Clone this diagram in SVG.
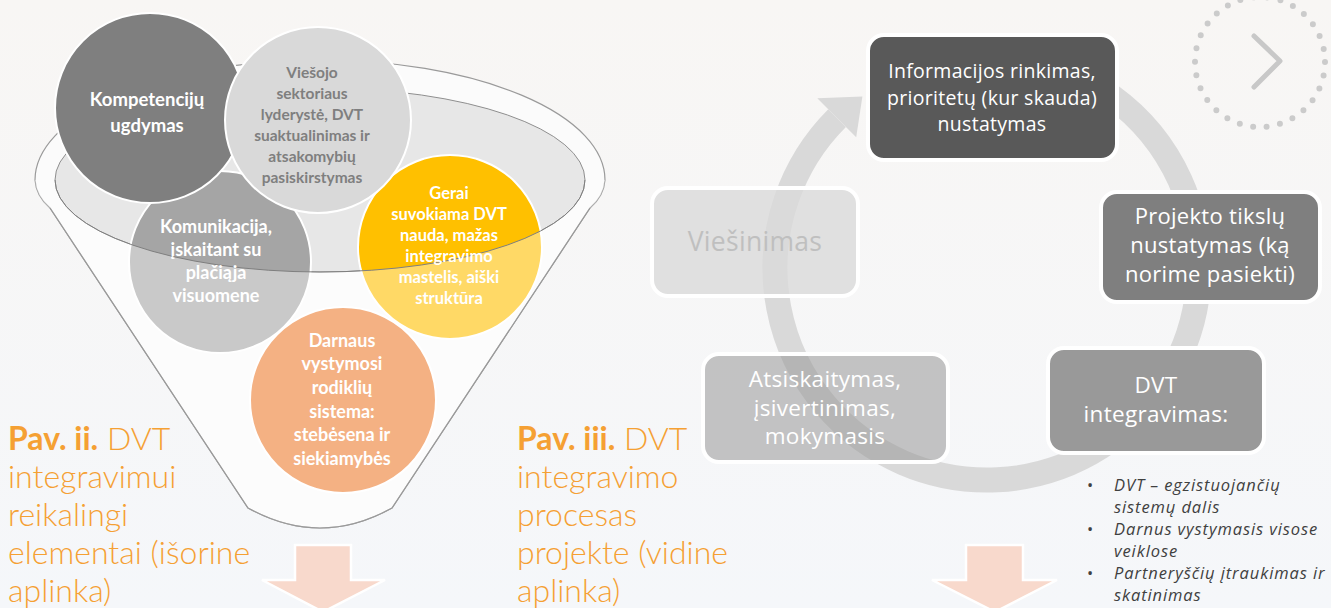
<svg xmlns="http://www.w3.org/2000/svg" width="1331" height="608" viewBox="0 0 1331 608">
<defs>
<linearGradient id="bg" x1="0" y1="0" x2="0" y2="1">
<stop offset="0" stop-color="#f8f6f4"/>
<stop offset="1" stop-color="#f5f7fa"/>
</linearGradient>
<style>
.ct{font-family:Lato,"Open Sans","Noto Sans",sans-serif;font-weight:bold;text-anchor:middle;fill:#ffffff}
.cir{stroke:#ffffff;stroke-width:2}
.box{stroke:#ffffff;stroke-width:4}
.bt{font-family:"Open Sans","Noto Sans",sans-serif;text-anchor:middle;fill:#ffffff;letter-spacing:0.3px}
.cap{font-family:Lato,"Open Sans",sans-serif;font-weight:300;font-size:32px;fill:#f5a033}
.capb{font-weight:bold}
.bul{font-family:"Open Sans","Noto Sans",sans-serif;font-style:italic;font-size:16.5px;letter-spacing:0.9px;fill:#404040}
.arr{fill:#f8d9cc;stroke:#ffffff;stroke-width:2.5}
</style>
</defs>
<rect width="1331" height="608" fill="url(#bg)"/>

<!-- funnel back -->
<g id="funnel-back">
<path d="M35,180 A285 120 0 0 1 605,180 Q604,196 590,208 L392,508 Q320,548 248,508 L50,208 Q36,196 35,180 Z" fill="#fbfbfb" stroke="#9a9a9a" stroke-width="1.2"/>
<ellipse cx="320" cy="180" rx="265" ry="92" fill="#e7e7e7" stroke="#8f8f8f" stroke-width="1"/>
</g>

<g id="n-komunikacija">
<circle class="cir" cx="220" cy="262" r="91" fill="#a5a5a5"/>
</g>
<g id="n-gerai">
<circle class="cir" cx="450" cy="247" r="92" fill="#ffc000"/>
</g>
<g id="n-kompetenciju">
<circle class="cir" cx="150" cy="108" r="95" fill="#7f7f7f"/>
<text class="ct" font-size="18.5" x="147"><tspan x="147" y="106">Kompetencijų</tspan><tspan x="147" y="132">ugdymas</tspan></text>
</g>
<g id="n-viesojo">
<circle class="cir" cx="318" cy="120" r="93" fill="#d9d9d9"/>
<text class="ct" font-size="15.5" style="fill:#7f7f7f"><tspan x="312" y="78">Viešojo</tspan><tspan x="312" y="99">sektoriaus</tspan><tspan x="312" y="120">lyderystė, DVT</tspan><tspan x="312" y="141">suaktualinimas ir</tspan><tspan x="312" y="162">atsakomybių</tspan><tspan x="312" y="183">pasiskirstymas</tspan></text>
</g>
<g id="n-darnaus">
<circle class="cir" cx="343" cy="400" r="93" fill="#ed7d31"/>
</g>

<!-- funnel front (glass) -->
<g id="funnel-front">
<path d="M55,180 A265 92 0 0 0 585,180 L605,180 Q604,196 590,208 L392,508 Q320,548 248,508 L50,208 Q36,196 35,180 Z" fill="#ffffff" fill-opacity="0.4"/>
<path d="M55,180 A265 92 0 0 0 585,180" fill="none" stroke="#7f7f7f" stroke-width="1"/>
<path d="M590,208 L392,508 Q320,548 248,508 L50,208" fill="none" stroke="#9a9a9a" stroke-width="1.2"/>
</g>

<g id="t-circles">
<text class="ct" font-size="18"><tspan x="216" y="233">Komunikacija,</tspan><tspan x="216" y="256">įskaitant  su</tspan><tspan x="216" y="279">plačiąja</tspan><tspan x="216" y="302">visuomene</tspan></text>
<text class="ct" font-size="16.5"><tspan x="449" y="199">Gerai</tspan><tspan x="449" y="220">suvokiama DVT</tspan><tspan x="449" y="241">nauda, mažas</tspan><tspan x="449" y="262">integravimo</tspan><tspan x="449" y="283">mastelis, aiški</tspan><tspan x="449" y="304">struktūra</tspan></text>
<text class="ct" font-size="18"><tspan x="342" y="347">Darnaus</tspan><tspan x="342" y="370">vystymosi</tspan><tspan x="342" y="394">rodiklių</tspan><tspan x="342" y="418">sistema:</tspan><tspan x="342" y="441">stebėsena ir</tspan><tspan x="342" y="465">siekiamybės</tspan></text>
</g>

<!-- captions -->
<g id="caption-ii">
<text class="cap"><tspan x="8" y="450"><tspan class="capb">Pav. ii.</tspan> DVT</tspan><tspan x="8" y="488">integravimui</tspan><tspan x="8" y="526">reikalingi</tspan><tspan x="8" y="564">elementai (išorine</tspan><tspan x="8" y="602">aplinka)</tspan></text>
</g>
<g id="caption-iii">
<text class="cap"><tspan x="517" y="450"><tspan class="capb">Pav. iii.</tspan> DVT</tspan><tspan x="517" y="488">integravimo</tspan><tspan x="517" y="526">procesas</tspan><tspan x="517" y="564">projekte (vidine</tspan><tspan x="517" y="602">aplinka)</tspan></text>
</g>

<!-- cycle connector -->
<g id="connectors">
<path d="M914.5,68.8 A212 212 0 1 1 837.1,118.1" fill="none" stroke="#d9d9d9" stroke-width="25"/>
<polygon points="817.3,98.3 862.4,96.5 856.2,137.2" fill="#d9d9d9"/>
</g>

<g id="n-info">
<rect class="box" x="868" y="35" width="249" height="125" rx="16" fill="#595959"/>
<text class="bt" font-size="19.5"><tspan x="992" y="78">Informacijos rinkimas,</tspan><tspan x="992" y="105">prioritetų (kur skauda)</tspan><tspan x="992" y="131">nustatymas</tspan></text>
</g>
<g id="n-projekto">
<rect class="box" x="1101" y="192" width="219" height="110" rx="16" fill="#7f7f7f"/>
<text class="bt" font-size="22"><tspan x="1210" y="224">Projekto tikslų</tspan><tspan x="1210" y="253">nustatymas (ką</tspan><tspan x="1210" y="282">norime pasiekti)</tspan></text>
</g>
<g id="n-dvt">
<rect class="box" x="1048" y="348" width="216" height="105" rx="16" fill="#999999"/>
<text class="bt" font-size="22.5"><tspan x="1156" y="393">DVT</tspan><tspan x="1156" y="422">integravimas:</tspan></text>
</g>
<g id="n-atsiskaitymas">
<rect class="box" x="703" y="354" width="245" height="108" rx="16" fill="#989898" fill-opacity="0.55"/>
<text class="bt" font-size="22.5"><tspan x="825" y="387">Atsiskaitymas,</tspan><tspan x="825" y="416">įsivertinimas,</tspan><tspan x="825" y="444">mokymasis</tspan></text>
</g>
<g id="n-viesinimas">
<rect class="box" x="652" y="188" width="206" height="108" rx="16" fill="#dadada" fill-opacity="0.78"/>
<text class="bt" font-size="26.5" style="fill:#bfbfbf"><tspan x="755" y="251">Viešinimas</tspan></text>
</g>

<g id="bullets">
<text class="bul"><tspan x="1087" y="491" font-style="normal">•</tspan><tspan x="1114" y="491">DVT – egzistuojančių</tspan><tspan x="1114" y="513">sistemų dalis</tspan><tspan x="1087" y="535" font-style="normal">•</tspan><tspan x="1114" y="535">Darnus vystymasis visose</tspan><tspan x="1114" y="557">veiklose</tspan><tspan x="1087" y="579" font-style="normal">•</tspan><tspan x="1114" y="579">Partneryščių įtraukimas ir</tspan><tspan x="1114" y="601">skatinimas</tspan></text>
</g>

<g id="down-arrows">
<polygon class="arr" points="295,545 351,545 351,580 385,580 323,612 262,580 295,580"/>
<polygon class="arr" points="966,545 1023,545 1023,580 1057,580 995,612 932,580 966,580"/>
</g>

<g id="next-icon">
<circle cx="1260" cy="62" r="65" fill="none" stroke="#cbcbcb" stroke-width="6" stroke-linecap="round" stroke-dasharray="0 13.61"/>
<polyline points="1254,36 1280,61 1254,87" fill="none" stroke="#c8c8c8" stroke-width="5" stroke-linecap="round" stroke-linejoin="round"/>
</g>
</svg>
